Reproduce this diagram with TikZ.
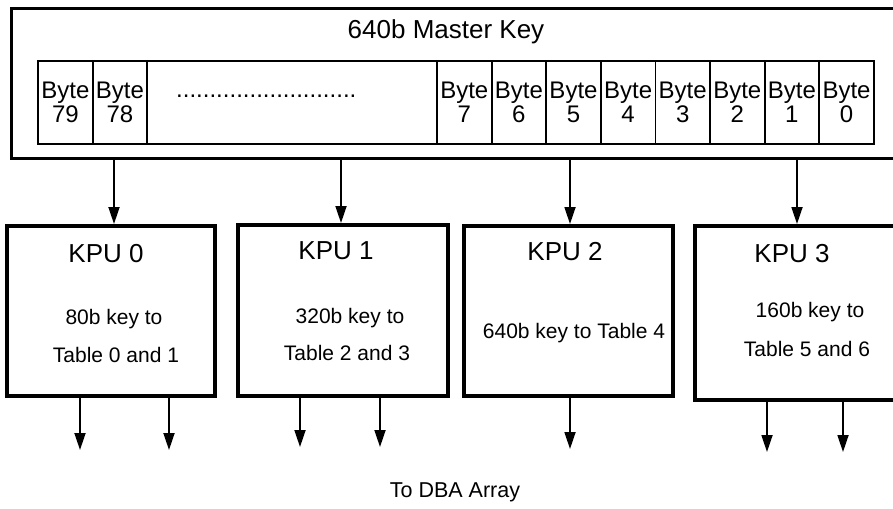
\documentclass[tikz,border=0pt]{standalone}
\usepackage{fontspec}
\setmainfont{Liberation Sans}
\usetikzlibrary{calc,arrows.meta}

\tikzset{
  bytecell/.style={draw, rectangle, line width=1.8pt, minimum width=54.6pt, minimum height=83pt, inner sep=0pt, align=center, font=\fontsize{24}{24}\selectfont},
  kpubox/.style={draw, rectangle, line width=3.5pt, anchor=north west, inner sep=0pt},
  kpulabel/.style={anchor=base, inner sep=0pt, font=\fontsize{26}{30}\selectfont},
  keytext/.style={anchor=base, inner sep=0pt, font=\fontsize{21}{25}\selectfont},
  arr/.style={line width=1.8pt, -{Triangle[width=11pt,length=17pt]}},
}

\begin{document}
\begin{tikzpicture}[x=1pt,y=-1pt]
        \useasboundingbox (0,0) rectangle (893,508);
        % マスターキーの枠
        \node[draw, rectangle, line width=3pt, minimum width=890pt, minimum height=150pt, anchor=north west, inner sep=0pt] (Master) at (10,7) {};
        \node[kpulabel] (MasterTitle) at (446,39) {640b Master Key};
        % バイトの枠
        \node[bytecell, minimum width=55pt] (B79) at (65.5,102.5) {Byte\\79};
        \node[bytecell, minimum width=54pt] (B78) at (120,102.5) {Byte\\78};
        \node[bytecell, minimum width=290pt] (Bdots) at (292,102.5) {};
        \node[anchor=base west, inner sep=0pt, font=\fontsize{24}{24}\selectfont] (Dots) at (176,98) {...........................};
        \foreach \n [count=\i from 0] in {7,...,0} {
            \node[bytecell] (B\n) at ({464.3+54.6*\i},102.5) {Byte\\\n};
        }
        % KPUの枠
        \node[kpubox, minimum width=208pt, minimum height=170pt] (KPU0) at (5,224) {};
        \node[kpubox, minimum width=210pt, minimum height=171pt] (KPU1) at (236,223) {};
        \node[kpubox, minimum width=209pt, minimum height=170pt] (KPU2) at (462,224) {};
        \node[kpubox, minimum width=212pt, minimum height=174pt] (KPU3) at (693,224) {};
        \node[kpulabel] (KPU0name) at (106,262) {KPU 0};
        \node[kpulabel] (KPU1name) at (336,259) {KPU 1};
        \node[kpulabel] (KPU2name) at (565,260) {KPU 2};
        \node[kpulabel] (KPU3name) at (792,262) {KPU 3};
        \node[keytext] (KPU0keyA) at (114,324) {80b key to};
        \node[keytext] (KPU0keyB) at (116,362) {Table 0 and 1};
        \node[keytext] (KPU1keyA) at (350,323) {320b key to};
        \node[keytext] (KPU1keyB) at (347,360) {Table 2 and 3};
        \node[keytext] (KPU2key) at (574,338) {640b key to Table 4};
        \node[keytext] (KPU3keyA) at (810,317) {160b key to};
        \node[keytext] (KPU3keyB) at (807,356) {Table 5 and 6};
        % 矢印で接続
        \draw[arr] ($(Master.south west)+(104,0)$) -- ($(KPU0.north west)+(109,0)$);
        \draw[arr] ($(Master.south west)+(331,0)$) -- ($(KPU1.north west)+(105,0)$);
        \draw[arr] ($(Master.south west)+(560,0)$) -- ($(KPU2.north west)+(108,0)$);
        \draw[arr] ($(Master.south west)+(787,0)$) -- ($(KPU3.north west)+(104,0)$);
        % DBAへの出力
        \coordinate (D0a) at (80,450);
        \coordinate (D0b) at (169,450);
        \coordinate (D1a) at (300,447);
        \coordinate (D1b) at (380,447);
        \coordinate (D2) at (570,449);
        \coordinate (D3a) at (767,452);
        \coordinate (D3b) at (843,452);
        \draw[arr] (KPU0.south -| D0a) -- (D0a);
        \draw[arr] (KPU0.south -| D0b) -- (D0b);
        \draw[arr] (KPU1.south -| D1a) -- (D1a);
        \draw[arr] (KPU1.south -| D1b) -- (D1b);
        \draw[arr] (KPU2.south -| D2) -- (D2);
        \draw[arr] (KPU3.south -| D3a) -- (D3a);
        \draw[arr] (KPU3.south -| D3b) -- (D3b);
        \node[keytext, font=\fontsize{21.5}{25}\selectfont] (DBA) at (455,497) {To DBA Array};
\end{tikzpicture}
\end{document}
